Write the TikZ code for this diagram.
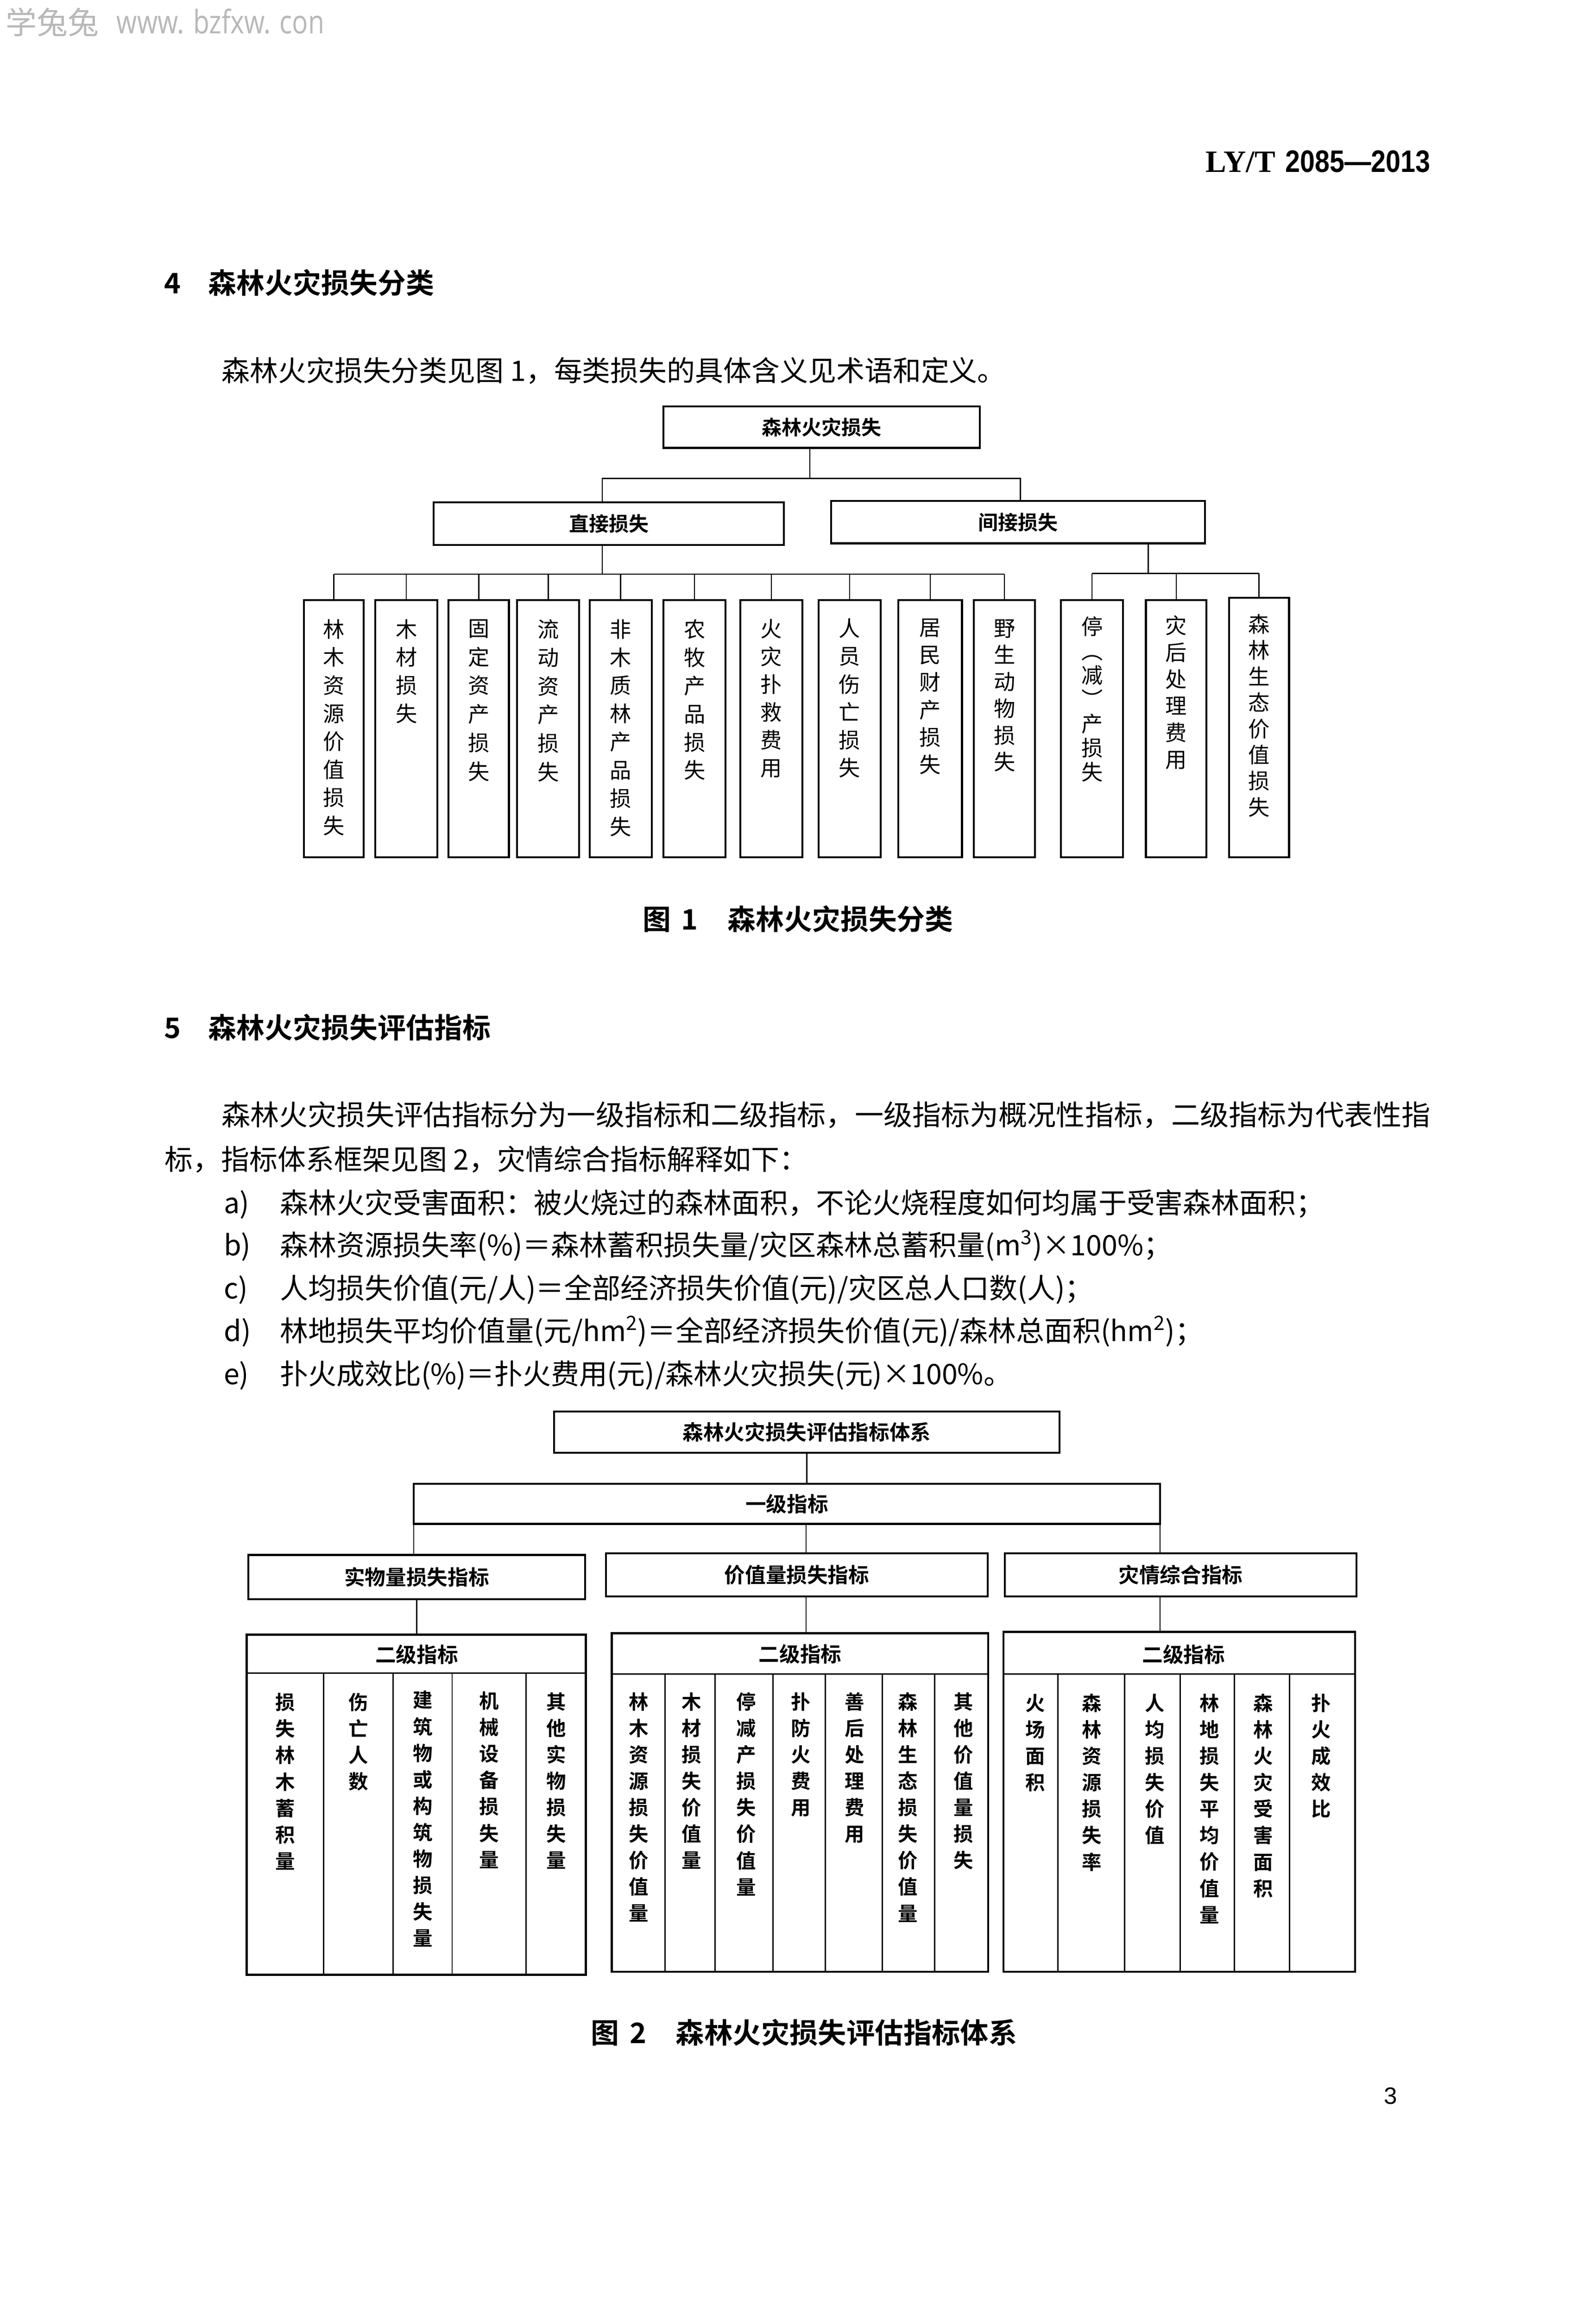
\documentclass[tikz,border=0pt]{standalone}
\usepackage{fontspec}
\usepackage{graphicx}
\setmainfont{Noto Sans CJK SC}[BoldFont={Noto Sans CJK SC Bold}]
\newfontfamily\wmfont{Open Sans}
\newfontfamily\hdserif{Liberation Serif}[BoldFont={Liberation Serif Bold}]
\newfontfamily\hdsans{Liberation Sans}[BoldFont={Liberation Sans Bold}]
\begin{document}
\begin{tikzpicture}[x=1pt,y=-1pt,
  every node/.style={inner sep=0pt,outer sep=0pt},
  bx/.style={draw,line width=1.3pt},
  cbox/.style={draw,line width=1.3pt,minimum height=174pt,anchor=north},
  con/.style={line width=0.8pt},
  divl/.style={line width=0.9pt},
  sbox/.style={draw,line width=1.4pt},
  lbl/.style={font=\fontsize{13.5}{16}\selectfont\bfseries},
  lblb/.style={font=\fontsize{14}{16}\selectfont\bfseries},
  ctxt/.style={font=\fontsize{14.5}{#1}\selectfont,align=center,anchor=north},
  stxt/.style={font=\fontsize{13.3}{17.9}\selectfont\bfseries,align=center,anchor=north},
  body/.style={font=\fontsize{19.1}{24}\selectfont,anchor=base west},
  hd/.style={font=\fontsize{19.1}{24}\selectfont\bfseries,anchor=base west},
]
\useasboundingbox (0,0) rectangle (1080,1567.6);
\fill[white] (0,0) rectangle (1080,1567.6);

% watermark and header
\node[anchor=west,text=black!28,font=\fontsize{21}{24}\selectfont] (wm1) at (3.9,15) {学兔兔};
\node[anchor=base west,text=black!28] (wm2) at (79,22.7) {\resizebox{140.5pt}{\height}{\fontsize{22}{24}\selectfont\wmfont www. bzfxw. con}};
\node[anchor=base east] (hdr) at (968,116.5) {\fontsize{21}{24}\selectfont\hdserif\bfseries LY/T\hspace{7pt}\resizebox{98pt}{\height}{\hdsans\bfseries 2085—2013}};

% section 4
\node[hd] (h4n) at (111,198.5) {4};
\node[hd] (h4) at (141,198.5) {森林火灾损失分类};
\node[body] (p4) at (150,258) {森林火灾损失分类见图 1，每类损失的具体含义见术语和定义。};

% ---------- Figure 1 ----------
\node[bx,minimum width=214,minimum height=28,lbl] (top1) at (556,289) {森林火灾损失};
\node[bx,minimum width=237,minimum height=28.7,lbl] (d1) at (412,354.3) {直接损失};
\node[bx,minimum width=253,minimum height=28.6,lbl] (i1) at (689,353.3) {间接损失};

\coordinate (bar1) at (548,323.7);
\coordinate (bar1l) at (407.5,323.7);
\coordinate (bar1r) at (690.6,323.7);
\draw[con] (bar1 |- top1.south) -- (bar1);
\draw[con] (bar1l |- d1.north) -- (bar1l) -- (bar1r) -- (bar1r |- i1.north);

\node[cbox,minimum width=40.6] (c1) at (225.9,406) {};
\node[cbox,minimum width=42] (c2) at (275,406) {};
\node[cbox,minimum width=40.8] (c3) at (324,406) {};
\node[cbox,minimum width=42] (c4) at (371,406) {};
\node[cbox,minimum width=42] (c5) at (420,406) {};
\node[cbox,minimum width=42] (c6) at (470,406) {};
\node[cbox,minimum width=42] (c7) at (522,406) {};
\node[cbox,minimum width=42] (c8) at (575,406) {};
\node[cbox,minimum width=43] (c9) at (629.5,406) {};
\node[cbox,minimum width=41.5] (c10) at (679.75,406) {};
\node[cbox,minimum width=42] (c11) at (739,406) {};
\node[cbox,minimum width=41] (c12) at (796,406) {};
\node[cbox,minimum width=40.7,minimum height=175.5] (c13) at (852,404.5) {};

\node[ctxt=19] (t1) at (225.9,419) {林\\木\\资\\源\\价\\值\\损\\失};
\node[ctxt=19] (t2) at (275,419) {木\\材\\损\\失};
\node[ctxt=19.4] (t3) at (324,419) {固\\定\\资\\产\\损\\失};
\node[ctxt=19.3] (t4) at (371,419) {流\\动\\资\\产\\损\\失};
\node[ctxt=19.1] (t5) at (420,419) {非\\木\\质\\林\\产\\品\\损\\失};
\node[ctxt=19.1] (t6) at (470,419) {农\\牧\\产\\品\\损\\失};
\node[ctxt=18.8] (t7) at (522,419) {火\\灾\\扑\\救\\费\\用};
\node[ctxt=18.9] (t8) at (575,418.5) {人\\员\\伤\\亡\\损\\失};
\node[ctxt=18.6] (t9) at (629.5,418.5) {居\\民\\财\\产\\损\\失};
\node[ctxt=18.1] (t10) at (679.75,419) {野\\生\\动\\物\\损\\失};
\node[ctxt=16.4] (t11) at (739,417.2) {停\\︵\\减\\︶\\产\\损\\失};
\node[ctxt=18.1] (t12) at (796,416.5) {灾\\后\\处\\理\\费\\用};
\node[ctxt=17.7] (t13) at (852,415.5) {森\\林\\生\\态\\价\\值\\损\\失};

\coordinate (bar2) at (407.5,388.5);
\draw[con] (bar2 |- d1.south) -- (bar2);
\draw[con] (c1.north |- bar2) -- (c10.north |- bar2);
\foreach \k in {1,...,10} \draw[con] (c\k.north) -- (c\k.north |- bar2);
\coordinate (bar3) at (777,388);
\draw[con] (bar3 |- i1.south) -- (bar3);
\draw[con] (c11.north |- bar3) -- (c13.north |- bar3);
\foreach \k in {11,12,13} \draw[con] (c\k.north) -- (c\k.north |- bar3);

\node[hd] (cap1) at (435,629) {图\hspace{7pt}1\hspace{20pt}森林火灾损失分类};

% section 5
\node[hd] (h5n) at (111,702.5) {5};
\node[hd] (h5) at (141,702.5) {森林火灾损失评估指标};
\node[body] (l1t) at (150,761.5) {\resizebox{818pt}{\height}{森林火灾损失评估指标分为一级指标和二级指标，一级指标为概况性指标，二级指标为代表性指}};
\node[body] (l2t) at (111.6,791.5) {标，指标体系框架见图 2，灾情综合指标解释如下：};
\node[body] (la) at (151.5,821) {a)};
\node[body] (ta) at (189.5,821) {森林火灾受害面积：被火烧过的森林面积，不论火烧程度如何均属于受害森林面积；};
\node[body] (lb) at (151.5,849.5) {b)};
\node[body] (tb) at (189.5,849.5) {森林资源损失率(\%)＝森林蓄积损失量/灾区森林总蓄积量(m\textsuperscript{3})×100\%；};
\node[body] (lc) at (151.5,878.5) {c)};
\node[body] (tc) at (189.5,878.5) {人均损失价值(元/人)＝全部经济损失价值(元)/灾区总人口数(人)；};
\node[body] (ld) at (151.5,907.5) {d)};
\node[body] (td) at (189.5,907.5) {林地损失平均价值量(元/hm\textsuperscript{2})＝全部经济损失价值(元)/森林总面积(hm\textsuperscript{2})；};
\node[body] (le) at (151.5,936.5) {e)};
\node[body] (te) at (189.5,936.5) {扑火成效比(\%)＝扑火费用(元)/森林火灾损失(元)×100\%。};

% ---------- Figure 2 ----------
\node[bx,minimum width=342,minimum height=28,lblb] (top2) at (546,969) {森林火灾损失评估指标体系};
\node[bx,minimum width=505,minimum height=27,lblb] (one) at (532.5,1017.5) {一级指标};
\node[bx,minimum width=228,minimum height=30,lblb] (m1) at (282,1067) {实物量损失指标};
\node[bx,minimum width=258.5,minimum height=29,lblb] (m2) at (539.25,1065.5) {价值量损失指标};
\node[bx,minimum width=238,minimum height=29,lblb] (m3) at (799,1065.5) {灾情综合指标};

\coordinate (j2) at (545.5,1000);
\draw[con] (top2.south) -- (top2.south |- one.north);
\draw[con] (one.south west) -- (one.south west |- m1.north);
\draw[con] (j2 |- one.south) -- (j2 |- m2.north);
\draw[con] (one.south east) -- (one.south east |- m3.north);

\node[sbox,minimum width=229.5,minimum height=230] (s1) at (281.75,1221) {};
\node[sbox,minimum width=254.7,minimum height=229] (s2) at (541.35,1219.5) {};
\node[sbox,minimum width=238,minimum height=230] (s3) at (798,1219) {};
\draw[con] (m1.south) -- (m1.south |- s1.north);
\draw[con] (j2 |- m2.south) -- (j2 |- s2.north);
\draw[con] (one.south east |- m3.south) -- (one.south east |- s3.north);

% header rows and column dividers
\draw[divl] (167,1132) -- (396.5,1132);
\draw[divl] (414,1132.7) -- (668.7,1132.7);
\draw[divl] (679,1132.7) -- (917,1132.7);
\foreach \xx in {219,266,306,356} \draw[divl] (\xx,1132) -- (\xx,1336);
\foreach \xx in {450,484,523,558.4,597,632.6} \draw[divl] (\xx,1132.7) -- (\xx,1334);
\foreach \xx in {716,761,798.7,835.4,872.7} \draw[divl] (\xx,1132.7) -- (\xx,1334);

\node[lblb] (e1) at (282,1119.5) {二级指标};
\node[lblb] (e2) at (541.5,1119) {二级指标};
\node[lblb] (e3) at (801,1119.5) {二级指标};

\node[stxt] (a1) at (193,1145.5) {损\\失\\林\\木\\蓄\\积\\量};
\node[stxt] (a2) at (242.5,1145.5) {伤\\亡\\人\\数};
\node[stxt] (a3) at (286,1144) {建\\筑\\物\\或\\构\\筑\\物\\损\\失\\量};
\node[stxt] (a4) at (331,1144.5) {机\\械\\设\\备\\损\\失\\量};
\node[stxt] (a5) at (376.5,1145) {其\\他\\实\\物\\损\\失\\量};

\node[stxt] (b1) at (432.4,1145) {林\\木\\资\\源\\损\\失\\价\\值\\量};
\node[stxt] (b2) at (468,1145) {木\\材\\损\\失\\价\\值\\量};
\node[stxt] (b3) at (505,1145) {停\\减\\产\\损\\失\\价\\值\\量};
\node[stxt] (b4) at (542,1145) {扑\\防\\火\\费\\用};
\node[stxt] (b5) at (578.5,1145) {善\\后\\处\\理\\费\\用};
\node[stxt] (b6) at (614.5,1145) {森\\林\\生\\态\\损\\失\\价\\值\\量};
\node[stxt] (b7) at (652,1145) {其\\他\\价\\值\\量\\损\\失};

\node[stxt] (g1) at (700.5,1146) {火\\场\\面\\积};
\node[stxt] (g2) at (739,1146) {森\\林\\资\\源\\损\\失\\率};
\node[stxt] (g3) at (781.5,1146) {人\\均\\损\\失\\价\\值};
\node[stxt] (g4) at (818.5,1146) {林\\地\\损\\失\\平\\均\\价\\值\\量};
\node[stxt] (g5) at (855,1146) {森\\林\\火\\灾\\受\\害\\面\\积};
\node[stxt] (g6) at (894,1146) {扑\\火\\成\\效\\比};

\node[hd] (cap2) at (400,1382.3) {图\hspace{7pt}2\hspace{20pt}\resizebox{231pt}{\height}{森林火灾损失评估指标体系}};

\node[font=\fontsize{16}{18}\selectfont\hdsans] (pg) at (941,1418) {3};
\end{tikzpicture}
\end{document}
